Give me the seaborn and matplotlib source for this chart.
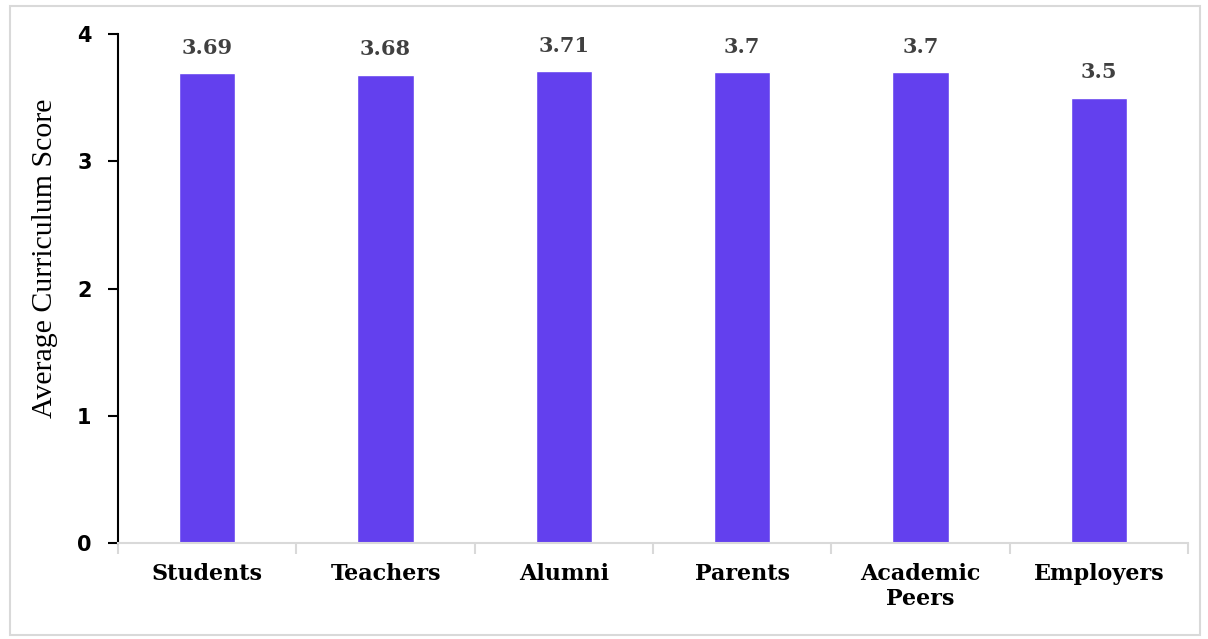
import numpy as np
import pandas as pd
import matplotlib
matplotlib.use('Agg')
import matplotlib.pyplot as plt
import seaborn as sns
from matplotlib.patches import Rectangle

groups = ['Students', 'Teachers', 'Alumni', 'Parents', 'Academic\nPeers', 'Employers']
scores = [3.69, 3.68, 3.71, 3.7, 3.7, 3.5]
score_labels = ['3.69', '3.68', '3.71', '3.7', '3.7', '3.5']

df = pd.DataFrame({'group': groups, 'score': scores})

sns.set_style('white')
fig = plt.figure(figsize=(12.08, 6.39), dpi=100)
ax = fig.add_axes([0.0977, 0.150, 0.8857, 0.797])

sns.barplot(data=df, x='group', y='score', color='#6340EE', width=0.315,
            saturation=1, ax=ax)

ax.set_ylim(0, 4)
ax.set_xlim(-0.5, 5.5)
ax.set_yticks([0, 1, 2, 3, 4])
ax.set_yticklabels(['0', '1', '2', '3', '4'], fontsize=15, fontweight='bold',
                   family='DejaVu Sans', color='black')
ax.tick_params(axis='y', direction='out', length=7, width=1.5, color='black',
               left=True, pad=12)

# category labels, tick marks at boundaries
ax.set_xticks(range(len(groups)))
ax.set_xticklabels(groups, fontsize=16, fontweight='bold', family='DejaVu Serif',
                   linespacing=1.2, color='black')
ax.tick_params(axis='x', length=0, pad=14)
ax.set_xticks(np.arange(-0.5, len(groups), 1.0), minor=True)
ax.tick_params(axis='x', which='minor', length=8, width=1.5, color='#d9d9d9',
               direction='out', bottom=True)

for s in ['top', 'right']:
    ax.spines[s].set_visible(False)
ax.spines['left'].set_color('black')
ax.spines['left'].set_linewidth(1.5)
ax.spines['bottom'].set_color('#d9d9d9')
ax.spines['bottom'].set_linewidth(1.5)

ax.set_xlabel('')
ax.set_ylabel('Average Curriculum Score', fontsize=21.5, family='Liberation Serif',
              color='black')
ax.yaxis.set_label_coords(-0.0565, 0.56)

for i, (v, t) in enumerate(zip(scores, score_labels)):
    ax.text(i, v + 0.12, t, ha='center', va='bottom', fontsize=15,
            fontweight='bold', color='#404040', family='DejaVu Serif')

fig.patches.append(Rectangle((0.008, 0.006), 0.985, 0.984, transform=fig.transFigure,
                             fill=False, edgecolor='#d9d9d9', linewidth=1.5))

fig.savefig('out.png', dpi=100)
